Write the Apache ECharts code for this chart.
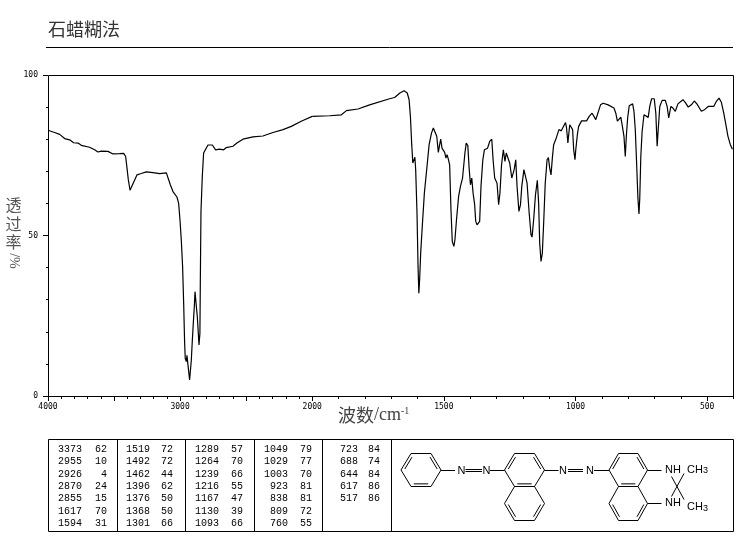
<!DOCTYPE html>
<html><head><meta charset="utf-8">
<style>html,body{margin:0;padding:0;background:#fff}#c{width:737px;height:539px}</style>
<script src="https://cdn.jsdelivr.net/npm/echarts@6/dist/echarts.min.js"></script>
</head><body><div id="c"></div>
<script>
const chartTitle = '石蜡糊法';
const wavenumbers = [4000,3950,3912,3874,3836,3806,3773,3748,3685,3647,3622,3596,3546,3508,3458,3427,3412,3402,3392,3379,3364,3349,3326,3294,3256,3205,3155,3104,3089,3074,3054,3024,3011,3001,2991,2981,2973,2966,2961,2953,2948,2940,2935,2928,2920,2915,2908,2900,2892,2887,2880,2877,2870,2862,2857,2850,2847,2842,2832,2822,2812,2789,2756,2731,2701,2670,2650,2600,2570,2524,2448,2373,2297,2221,2158,2083,2000,
1934,1889,1870,1826,1782,1706,1687,1667,1651,1639,1632,1627,1622,1618,1614,1610,1607,1602,1598,1595,1592,1588,1582,1574,1564,1556,1547,1540,1534,1527,1521,1516,1512,1507,1502,1497,1492,1488,1483,1478,1473,1468,1462,1458,1452,1444,1437,1429,1420,1415,1409,1404,1399,1394,1389,1383,1379,1374,1369,1364,1359,1352,1346,1334,1326,1318,1313,1307,1298,1292,1287,1281,1274,1268,1263,1257,1250,1242,1233,1227,1222,1215,1209,1204,1196,1189,1184,1176,1169,1165,1159,1152,1145,1140,1136,1131,1126,1121,1115,1108,1103,1098,1093,1088,1083,1073,1063,1054,1048,1038,1034,1029,1022,1015,1011,1007,1002,999,993,988,977,958,948,937,930,923,917,905,895,876,854,847,841,835,828,822,816,811,807,802,796,783,778,773,768,763,759,756,752,747,740,733,724,718,711,701,695,690,686,680,671,659,652,646,638,630,621,611,592,582,572,560,549,539,522,510,496,475,465,455,446,437,430,421,412,404];
const transmittance = [82.8,82.1,81.5,80.2,79.8,78.9,78.8,78.1,77.5,76.7,76,76.3,76.2,75.4,75.5,75.6,74.6,71,67.4,64.1,64.1,66.8,68.9,69.3,69.8,69.6,69.3,69.5,68.9,65.8,63.7,62,60,54.9,48.6,40.3,28.9,16.9,11.7,10.7,12.7,12.3,7.6,5,5.5,11.2,16.9,22.7,28.1,32.5,32.5,27.9,24.9,19.5,15.9,19.5,35.1,57.5,68.4,75.7,76.2,78.2,78.2,76.7,76.9,76.7,77.4,77.8,78.8,80,80.7,81,82.1,83,84,85.6,87.1,
87.3,87.6,88.9,89.4,90.7,92.6,93,94.4,95.1,94.4,92.3,87.1,78.3,72.6,72,74.4,70.5,57,40.3,32,36.2,44.5,52.8,63.2,71.5,78.3,81.9,83.5,83.7,80.9,75.9,78.3,80,77.2,77.2,75.9,74.1,75.2,73.8,72,58,48.1,46.6,48.6,54.9,62.2,65.3,67.9,75.7,78.8,78,71,65.8,67.9,63.2,59.6,54.4,53.3,52.8,54.4,65.3,73.6,76.7,77.2,79.3,80,73.6,67.9,66.3,59.6,63.2,72,76.7,73.1,75.7,76.2,72.6,67.9,70.5,73.6,65.3,57.5,59.6,65.3,70.5,70.7,66.3,57,50.2,49.5,54.9,62.7,67.2,60,47.6,41.9,44.5,53.8,66.3,73.6,74.3,71,68.9,74.1,78.3,80.4,83,82.6,83,85.2,83.5,78.8,84.5,85,83,76.7,73.6,76.7,81.4,84,85.7,85.7,87.1,88.1,87.6,86.1,87.6,90.7,91.2,90.7,89.7,88.1,85.6,85.6,86.9,84,80.9,74.6,80.9,86.6,90.4,91,88.7,83,72.6,61.6,56.7,61.6,74.6,82.4,87.6,88.1,86.8,90.2,92.6,92.6,88.1,77.8,82.9,90.2,92.1,92.1,90.2,86.6,90.2,89.7,88.7,91,92.3,91.3,90,90.7,91.9,91,88.7,89.2,90.2,90.2,91.8,92.8,91.5,88.1,85,80.9,78.3,76.9];
const leftLabels = [4000,3000,2000];
const rightMajorTicks = [2000,1500,1000,500];
const rightLabels = [1500,1000,500];
const peakWavenumbers = [
  ['3373','2955','2926','2870','2855','1617','1594'],
  ['1519','1492','1462','1396','1376','1368','1301'],
  ['1289','1264','1239','1216','1167','1130','1093'],
  ['1049','1029','1003','923','838','809','760'],
  ['723','688','644','617','517']];
const peakTransmittance = [
  ['62','10','4','24','15','70','31'],
  ['72','72','44','62','50','50','66'],
  ['57','70','66','55','47','39','66'],
  ['79','77','70','81','81','72','55'],
  ['84','74','84','86','86']];

const pairs = wavenumbers.map((w,i)=>[w,transmittance[i]]);
const leftData = pairs.filter(p=>p[0]>=2000);
const rightData = pairs.filter(p=>p[0]<=2000);

const axisFont = {fontFamily:'"DejaVu Sans Mono",monospace',fontSize:8,color:'#000'};
const tableFont = '10px "Liberation Mono",monospace';
const ink = '#000';
const g = [];
function line(x1,y1,x2,y2){g.push({type:'line',silent:true,shape:{x1,y1,x2,y2},style:{stroke:ink,lineWidth:1}});}
function text(x,y,t,extra){g.push({type:'text',silent:true,x,y,style:Object.assign({text:t,fill:ink,font:tableFont,align:'left',verticalAlign:'middle'},extra||{})});}

// frame of the plot, rule under the title, table frame and dividers
g.push({type:'rect',silent:true,z:0,shape:{x:48.5,y:75.5,width:685,height:321},style:{fill:'none',stroke:ink,lineWidth:1}});
line(46,47.5,733,47.5);
g.push({type:'rect',silent:true,shape:{x:48.5,y:439.5,width:685,height:92},style:{fill:'none',stroke:ink,lineWidth:1}});
[117.5,185.5,254.5,322.5,391.5].forEach(x=>line(x,439.5,x,531.5));

// table
const colRight = [[82,107],[150,173],[219,243],[288,312],[358,380]];
peakWavenumbers.forEach((col,c)=>col.forEach((w,r)=>{
  const y = 449.5 + r*12.3;
  text(colRight[c][0],y,w,{align:'right'});
  text(colRight[c][1],y,peakTransmittance[c][r],{align:'right'});
}));

// axis names
const cjkFont = '"Noto Sans CJK SC",sans-serif';
g.push({type:'text',silent:true,x:13.5,y:196,style:{text:'透\n过\n率',align:'center',verticalAlign:'top',fill:'#555',font:'16px '+cjkFont,lineHeight:18.5}});
g.push({type:'text',silent:true,x:13.5,y:261,rotation:-Math.PI/2,style:{text:'/%',align:'center',verticalAlign:'middle',fill:'#555',font:'14px "Liberation Serif",serif'}});
g.push({type:'text',silent:true,x:338,y:415,style:{text:'{a|波数}{b|/cm}{c|-1}',align:'left',verticalAlign:'middle',rich:{
  a:{font:'18px '+cjkFont,fill:'#444'},
  b:{font:'18px "Liberation Serif",serif',fill:'#444'},
  c:{font:'10px "Liberation Serif",serif',fill:'#444',padding:[0,0,8,0]}}}});

// structure
function ring(x0,x1,x2,x3,y0,y1,y2,dbl){
  const P=[[x0,y1],[x1,y0],[x2,y0],[x3,y1],[x2,y2],[x1,y2]];
  P.forEach((p,i)=>{const q=P[(i+1)%6];line(p[0],p[1],q[0],q[1]);});
  const cx=(x0+x3)/2,cy=y1;
  dbl.forEach(i=>{
    const p=P[i],q=P[(i+1)%6];
    const s=0.84;
    line(cx+(p[0]-cx)*s+(q[0]-p[0])*0.06,cy+(p[1]-cy)*s+(q[1]-p[1])*0.06,cx+(q[0]-cx)*s-(q[0]-p[0])*0.06,cy+(q[1]-cy)*s-(q[1]-p[1])*0.06);
  });
}
ring(401,411,431,441,453.5,470,486.5,[0,2,4]);
ring(504.5,514.5,534.5,544.5,453.5,470,486.5,[0,2,4]);
ring(504.5,514.5,534.5,544.5,486.5,503.5,520.5,[3,5]);
ring(609,618.5,638,647.5,453.5,470,486.5,[0,2,4]);
ring(609,618.5,638,647.5,486.5,503.5,520.5,[3,5]);
function azo(x1,x2,x3,x4,x5,x6,nA,nB){
  line(x1,470.5,x2,470.5);line(x3,469.5,x4,469.5);line(x3,471.5,x4,471.5);line(x5,470.5,x6,470.5);
  text(nA,470.5,'N',{align:'center',font:'11px "Liberation Sans",sans-serif'});
  text(nB,470.5,'N',{align:'center',font:'11px "Liberation Sans",sans-serif'});
}
azo(441,455,465.5,482,490,504.5,461.5,486.5);
azo(544.5,558.5,568,583,594,609,563,590);
line(647.5,470.5,661.5,470.5);line(647.5,503.5,661.5,503.5);
line(671.5,476.5,684,499.5);line(684,473.5,671.5,496.5);
const molFont='11px "Liberation Sans",sans-serif';
text(665,469.5,'NH',{font:molFont});
text(665,503,'NH',{font:molFont});
const ch3=y=>({type:'text',silent:true,x:687,y,style:{text:'{a|CH}{b|3}',align:'left',verticalAlign:'middle',rich:{a:{font:molFont,fill:ink},b:{font:'9px "Liberation Sans",sans-serif',fill:ink,padding:[3,0,0,0]}}}});
g.push(ch3(469.5),ch3(507));

const tick = {lineStyle:{color:ink,width:1}};
const chart = echarts.init(document.getElementById('c'),null,{renderer:'canvas'});
chart.setOption({
  animation:false,
  backgroundColor:'#fff',
  title:{text:chartTitle,left:43,top:15,textStyle:{fontFamily:cjkFont,fontSize:18,fontWeight:'normal',color:'#333'}},
  grid:[
    {left:48,top:75,width:264.2,height:321},
    {left:312.2,top:75,width:421.3,height:321}
  ],
  xAxis:[
    {gridIndex:0,type:'value',inverse:true,min:2000,max:4000,interval:500,position:'bottom',
     axisLine:{show:false},splitLine:{show:false},
     axisTick:{show:true,length:5,...tick},
     minorTick:{show:true,splitNumber:5,length:3,...tick},
     axisLabel:{...axisFont,margin:7,showMinLabel:true,showMaxLabel:true,hideOverlap:false,customValues:leftLabels,formatter:v=>String(v)}},
    {gridIndex:1,type:'value',inverse:true,min:400,max:2000,position:'bottom',
     axisLine:{show:false},splitLine:{show:false},
     axisTick:{show:true,length:5,customValues:rightMajorTicks,...tick},
     axisLabel:{...axisFont,margin:7,customValues:rightLabels,formatter:v=>String(v)}},
    {gridIndex:1,type:'value',inverse:true,min:400,max:2000,interval:100,position:'bottom',
     axisLine:{show:false},splitLine:{show:false},
     axisTick:{show:true,length:3,...tick},axisLabel:{show:false}}
  ],
  yAxis:[
    {gridIndex:0,type:'value',min:0,max:100,interval:50,
     axisLine:{show:false},splitLine:{show:false},
     axisTick:{show:true,length:5,...tick},
     minorTick:{show:true,splitNumber:5,length:2,...tick},
     axisLabel:{...axisFont,margin:10}},
    {gridIndex:1,type:'value',min:0,max:100,interval:50,show:false}
  ],
  series:[
    {type:'line',xAxisIndex:0,yAxisIndex:0,data:leftData,showSymbol:false,symbol:'none',silent:true,lineStyle:{color:ink,width:1.2}},
    {type:'line',xAxisIndex:1,yAxisIndex:1,data:rightData,showSymbol:false,symbol:'none',silent:true,lineStyle:{color:ink,width:1.2}}
  ],
  graphic:{elements:g}
});
</script></body></html>
